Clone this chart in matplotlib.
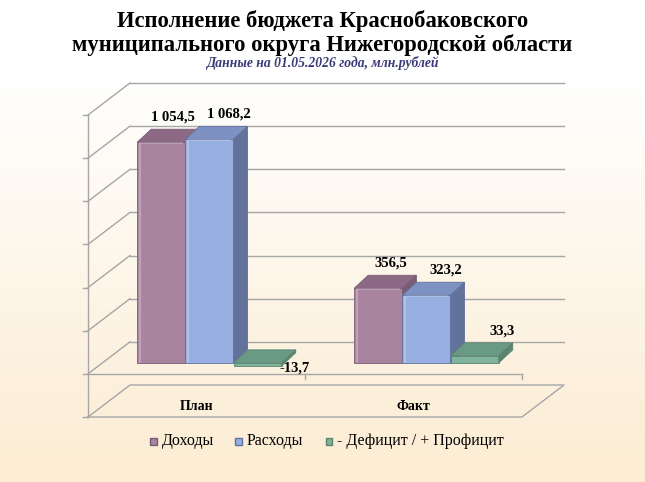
import matplotlib
matplotlib.use("Agg")
import matplotlib.pyplot as plt
from matplotlib.patches import Polygon
import numpy as np

# data
categories = ["План", "Факт"]
series_names = ["Доходы", "Расходы", "- Дефицит / + Профицит"]
income = [1054.5, 356.5]
expense = [1068.2, 323.2]
balance = [-13.7, 33.3]
labels_income = ["1 054,5", "356,5"]
labels_expense = ["1 068,2", "323,2"]
labels_balance = ["-13,7", "33,3"]

# colours: front, top, side
colors = [("#A9849F", "#8C6A85", "#7A5C74"),
          ("#97AEE0", "#7D91C2", "#62729A"),
          ("#7FB39B", "#6A9A83", "#5A8470")]

W, H = 645, 482
fig = plt.figure(figsize=(W / 100, H / 100), dpi=100)

# background gradient white -> peach
bg = fig.add_axes([0, 0, 1, 1])
grad = np.linspace(0, 1, 256)[:, None]
top_c = np.array([1.0, 1.0, 1.0])
bot_c = np.array([252, 236, 210]) / 255
img = top_c + (bot_c - top_c) * np.clip((grad - 0.15) / 0.85, 0, 1)[..., None]
bg.imshow(np.repeat(img, 2, axis=1), aspect="auto", extent=[0, 1, 0, 1], origin="upper")
bg.set_axis_off()

# front plane of the 3d box
left_px, right_px = 88, 522
bot_px, top_px = 417, 115
ax = fig.add_axes([left_px / W, (H - bot_px) / H, (right_px - left_px) / W, (bot_px - top_px) / H])
ymin, ymax = -200, 1200
ax.set_xlim(0, 2)
ax.set_ylim(ymin, ymax)
ax.set_axis_off()

px_x = (right_px - left_px) / 2.0
px_y = (bot_px - top_px) / (ymax - ymin)


def off(dx_px, dy_px):
    # pixel offset (right, up) to data units
    return dx_px / px_x, dy_px / px_y


box_dx, box_dy = off(42, 32)
grid_c = "#A6A6A6"

# back wall gridlines and left wall diagonals
for v in range(0, ymax + 1, 200):
    ax.plot([box_dx, 2 + box_dx], [v + box_dy, v + box_dy], color=grid_c, lw=1, clip_on=False)
    ax.plot([0, box_dx], [v, v + box_dy], color=grid_c, lw=1, clip_on=False)
    ax.plot([-0.025, 0], [v, v], color=grid_c, lw=1, clip_on=False)

# floor at ymin
ax.plot([0, 2, 2 + box_dx, box_dx, 0], [ymin, ymin, ymin + box_dy, ymin + box_dy, ymin],
        color=grid_c, lw=1, clip_on=False)
ax.plot([-0.025, 0], [ymin, ymin], color=grid_c, lw=1, clip_on=False)
# value axis and front zero line
ax.plot([0, 0], [ymin, ymax], color=grid_c, lw=1, clip_on=False)
ax.plot([0, 2], [0, 0], color=grid_c, lw=1, clip_on=False)
for xt in [1, 2]:
    ax.plot([xt, xt], [0, -22], color=grid_c, lw=1, clip_on=False)

# bars (slightly shrunk by perspective, they stand deeper than the front plane)
persp = 0.97
bar_w = 0.222
fx, fy = off(13, 11)
dx, dy = off(14, 13)
all_vals = [income, expense, balance]
all_labels = [labels_income, labels_expense, labels_balance]
lab_shift = [5, 12, 20]

for ci in range(len(categories)):
    for si in range(3):
        v = all_vals[si][ci] * persp
        x0 = ci + 0.5 + (si - 1.5) * bar_w + fx
        x1 = x0 + bar_w
        lo, hi = min(0, v) + fy, max(0, v) + fy
        front_c, top_cc, side_c = colors[si]
        ax.add_patch(Polygon([(x0, lo), (x1, lo), (x1, hi), (x0, hi)], closed=True,
                             fc=front_c, ec=side_c, lw=0.6, clip_on=False, zorder=3))
        ax.add_patch(Polygon([(x0, hi), (x1, hi), (x1 + dx, hi + dy), (x0 + dx, hi + dy)], closed=True,
                             fc=top_cc, ec=side_c, lw=0.6, clip_on=False, zorder=3))
        ax.add_patch(Polygon([(x1, lo), (x1 + dx, lo + dy), (x1 + dx, hi + dy), (x1, hi)], closed=True,
                             fc=side_c, ec=side_c, lw=0.6, clip_on=False, zorder=3))
        # soft highlights on the front face
        if hi - lo > 12 / px_y:
            ax.plot([x0 + 0.012, x0 + 0.012], [lo + 6, hi - 6], color="white", alpha=0.25, lw=1.5,
                    clip_on=False, zorder=4, solid_capstyle="round")
            ax.plot([x0 + 0.015, x1 - 0.015], [hi - 4, hi - 4], color="white", alpha=0.2, lw=1.5,
                    clip_on=False, zorder=4, solid_capstyle="round")
        lx = (x0 + x1) / 2 + dx / 2 + lab_shift[si] / px_x
        if v >= 0:
            ly = hi + dy + 12 / px_y
        else:
            lx = lx + 10 / px_x
            ly = lo - 2 / px_y
        ax.text(lx, ly, all_labels[si][ci], ha="center", va="center", fontsize=10.5,
                fontweight="bold", family="Liberation Serif", zorder=5, clip_on=False)

# category labels
for ci, name in enumerate(categories):
    ax.text(ci + 0.5, ymin + 48, name, ha="center", va="center", fontsize=10,
            fontweight="bold", family="Liberation Serif")

# titles
fig.text(0.5, 1 - 21 / H, "Исполнение бюджета Краснобаковского", ha="center", va="center",
         fontsize=16.3, fontweight="bold", family="Liberation Serif")
fig.text(0.5, 1 - 45 / H, "муниципального округа Нижегородской области", ha="center", va="center",
         fontsize=16.3, fontweight="bold", family="Liberation Serif")
fig.text(0.5, 1 - 63 / H, "Данные на 01.05.2026 года, млн.рублей", ha="center", va="center",
         fontsize=9.8, fontweight="bold", style="italic", family="Liberation Serif", color="#3A3A78")

# legend
leg_x = [153.5, 238.5, 329]
for si, name in enumerate(series_names):
    x = leg_x[si] / W
    y = 1 - 441 / H
    fig.patches.append(Polygon([(x - 3.5 / W, y - 3.5 / H), (x + 3.5 / W, y - 3.5 / H),
                                (x + 3.5 / W, y + 3.5 / H), (x - 3.5 / W, y + 3.5 / H)],
                               closed=True, transform=fig.transFigure, fc=colors[si][0],
                               ec=colors[si][2], lw=1))
    fig.text(x + 8.5 / W, y, name, ha="left", va="center", fontsize=11.5, family="Liberation Serif")

fig.savefig("out.png", dpi=100)
